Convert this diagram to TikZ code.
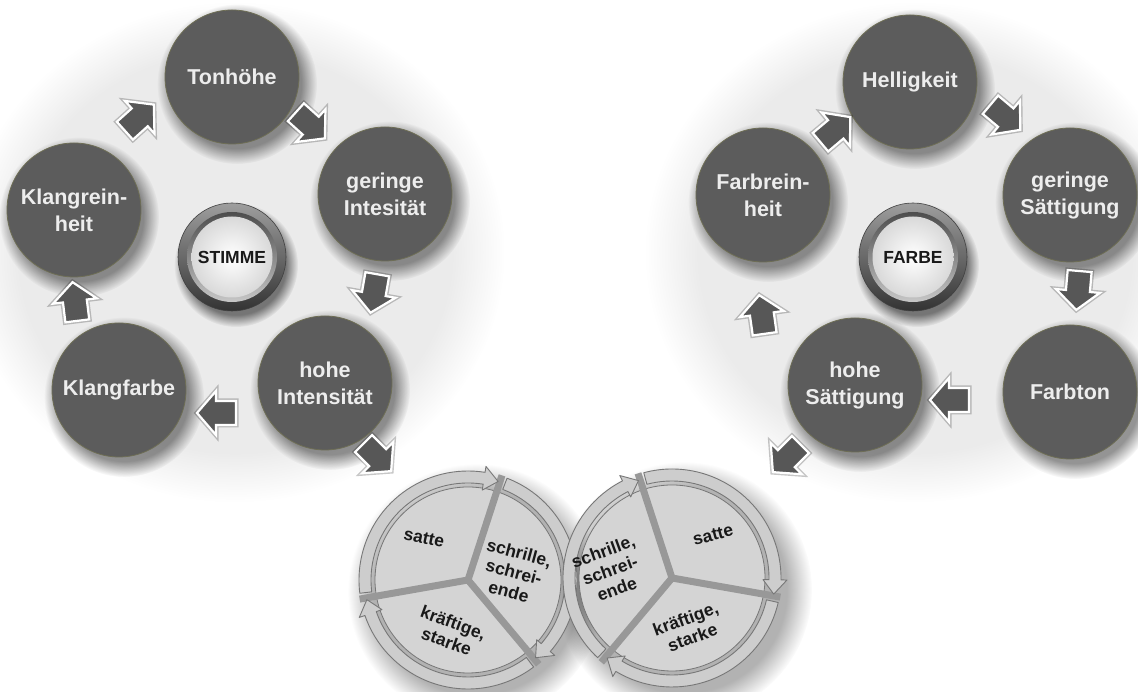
\documentclass[tikz,border=0pt]{standalone}
\usepackage{fontspec}
\setmainfont{Liberation Sans}
\usetikzlibrary{fadings,calc}
\definecolor{circfill}{HTML}{5C5C5C}
\definecolor{circedge}{HTML}{6E6E55}
\definecolor{arrfill}{HTML}{575757}
\definecolor{ringfill}{HTML}{CDCDCD}
\definecolor{ringedge}{HTML}{777777}
\definecolor{piefill}{HTML}{D4D4D4}
\definecolor{spokecol}{HTML}{989898}
\tikzset{
  x=1pt,y=1pt,
  circ/.style={circle, fill=circfill, draw=circedge, line width=0.8pt,
    minimum size=134pt, inner sep=0pt, text=white!93!black, align=center,
    font=\fontsize{21.5}{27}\selectfont\bfseries},
  btntext/.style={font=\fontsize{17.5}{20}\selectfont\bfseries, text=black!90, inner sep=0pt},
  pietext/.style={font=\fontsize{17.5}{20}\selectfont\bfseries, text=black!90, align=center, inner sep=0pt},
  softshadow/.style={fill=black, path fading=circle with fuzzy edge 20 percent},
  blockarrow/.pic={
    \draw[black, opacity=0.22, line width=5pt, line join=miter]
      (-19,-12) -- (1,-12) -- (1,-22) -- (20,0) -- (1,22) -- (1,12) -- (-19,12) -- cycle;
    \filldraw[fill=arrfill, draw=white, line width=2.2pt, line join=miter]
      (-19,-12) -- (1,-12) -- (1,-22) -- (20,0) -- (1,22) -- (1,12) -- (-19,12) -- cycle;
  },
}
\newcommand\RingArr[2]{%
  \filldraw[fill=ringfill, draw=ringedge, line width=0.9pt, line join=round]
    (#1:109) arc[start angle=#1, end angle=#2+9, radius=109]
    -- (#2+9:115) -- (#2+1:103) -- (#2+9:91) -- (#2+9:97)
    arc[start angle=#2+9, end angle=#1, radius=97] -- cycle;}
\newcommand\CShadow[3]{\fill[softshadow, opacity=0.42] ($(#1,#2)+(5,-7)$) circle (#3);}
\newcommand\PushButton[4]{%
  \fill[softshadow, opacity=0.5] ($(#1,#2)+(4,-8)$) circle (62);
  \shade[top color=black!38, bottom color=black!80] (#1,#2) circle (54);
  \draw[black!75, line width=0.6pt] (#1,#2) circle (54);
  \shade[top color=black!70, bottom color=black!22] (#1,#2) circle (45);
  \shade[inner color=white, outer color=black!15] (#1,#2) circle (40.5);
  \node[btntext] (#4) at (#1,#2) {#3};}
\begin{document}
\begin{tikzpicture}
\useasboundingbox (0,0) rectangle (1138,692);
\fill[white] (0,0) rectangle (1138,692);
% background halos
\fill[softshadow, opacity=0.08] (235,440) ellipse (270 and 250);
\fill[softshadow, opacity=0.08] (915,440) ellipse (270 and 250);

% ---------- left cycle ----------
\CShadow{232}{615}{80}
\CShadow{385}{498}{80}
\CShadow{325}{309}{80}
\CShadow{119}{302}{80}
\CShadow{74}{482}{80}
\node[circ] (ton) at (232,615) {Tonhöhe};
\node[circ] (gi)  at (385,498) {geringe\\Intesität};
\node[circ] (hi)  at (325,309) {hohe\\Intensität};
\node[circ] (kf)  at (119,302) {Klangfarbe};
\node[circ] (kr)  at (74,482)  {Klangrein-\\heit};
\PushButton{232}{435}{STIMME}{stimme}

\path (139,574) pic[rotate=42]   {blockarrow};
\path (310,567) pic[rotate=-42]  {blockarrow};
\path (374,399) pic[rotate=-100] {blockarrow};
\path (217,279) pic[rotate=180]  {blockarrow};
\path (75,390)  pic[rotate=97]   {blockarrow};
\path (377,235) pic[rotate=-45]  {blockarrow};

% ---------- right cycle ----------
\CShadow{910}{610}{80}
\CShadow{1070}{497}{80}
\CShadow{1070}{300}{80}
\CShadow{855}{307}{80}
\CShadow{763}{497}{80}
\node[circ] (hel) at (910,610)  {Helligkeit};
\node[circ] (gs)  at (1070,497) {geringe\\Sättigung};
\node[circ] (ft)  at (1070,300) {Farbton};
\node[circ] (hs)  at (855,307)  {hohe\\Sättigung};
\node[circ] (fr)  at (763,497)  {Farbrein-\\heit};
\PushButton{913}{435}{FARBE}{farbe}

\path (835,562)  pic[rotate=40]   {blockarrow};
\path (1005,575) pic[rotate=-40]  {blockarrow};
\path (1078,402) pic[rotate=-95]  {blockarrow};
\path (950,292)  pic[rotate=180]  {blockarrow};
\path (762,377)  pic[rotate=98]   {blockarrow};
\path (787,234)  pic[rotate=-135] {blockarrow};

% ---------- pies ----------
\fill[softshadow, opacity=0.3] (476,100) circle (128);
\fill[softshadow, opacity=0.3] (684,102) circle (128);
\begin{scope}[shift={(468,112)}]
  \filldraw[fill=piefill, draw=ringedge, line width=0.8pt] (0,0) circle (93);
  \foreach \a in {72,190,-50} \draw[spokecol, line width=7pt] (0,0) -- (\a:110);
  \RingArr{187}{72}
  \RingArr{69}{-50}
  \RingArr{-53}{-170}
  \node[pietext, rotate=-12] (ls1) at (-44,42) {satte};
  \node[pietext, rotate=-15] (ls2) at (46,8) {schrille,\\schrei-\\ende};
  \node[pietext, rotate=-20] (ls3) at (-18,-52) {kräftige,\\starke};
\end{scope}
\begin{scope}[shift={(672,114)}]
  \filldraw[fill=piefill, draw=ringedge, line width=0.8pt] (0,0) circle (93);
  \foreach \a in {108,-10,230} \draw[spokecol, line width=7pt] (0,0) -- (\a:110);
  \RingArr{227}{108}
  \RingArr{105}{-10}
  \RingArr{-13}{-130}
  \node[pietext, rotate=15] (rs1) at (41,43) {satte};
  \node[pietext, rotate=20] (rs2) at (-62,8) {schrille,\\schrei-\\ende};
  \node[pietext, rotate=20] (rs3) at (17,-50) {kräftige,\\starke};
\end{scope}
\end{tikzpicture}
\end{document}
